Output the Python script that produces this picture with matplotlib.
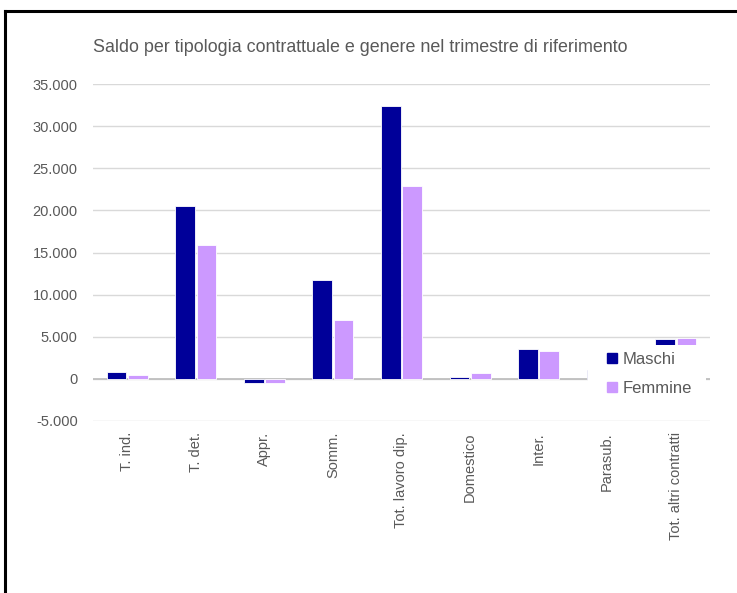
import matplotlib
matplotlib.use("Agg")
import matplotlib.pyplot as plt
import numpy as np
from matplotlib.lines import Line2D
from matplotlib.patches import Rectangle

plt.rcParams['font.family'] = ['Liberation Sans', 'DejaVu Sans']

categories = ["T. ind.", "T. det.", "Appr.", "Somm.", "Tot. lavoro dip.",
              "Domestico", "Inter.", "Parasub.", "Tot. altri contratti"]
maschi = [830, 20560, -520, 11680, 32390, 240, 3510, 1000, 4750]
femmine = [470, 15940, -480, 7020, 22840, 670, 3350, 850, 4900]
series_names = ["Maschi", "Femmine"]
yticks = [-5000, 0, 5000, 10000, 15000, 20000, 25000, 30000, 35000]
ytick_labels = ["-5.000", "0", "5.000", "10.000", "15.000", "20.000", "25.000", "30.000", "35.000"]
title = "Saldo per tipologia contrattuale e genere nel trimestre di riferimento"

W, H = 737, 593
fig = plt.figure(figsize=(W / 100, H / 100), dpi=100)
fig.patch.set_facecolor("white")

ax = fig.add_axes([93 / W, 1 - 421 / H, (710 - 93) / W, (421 - 84) / H])
c_m = "#000099"
c_f = "#CC99FF"
txt = "#595959"

x = np.arange(len(categories))
bw = 0.287
off = 0.155
ax.bar(x - off, maschi, bw, color=c_m, edgecolor="white", linewidth=0.6, zorder=3)
ax.bar(x + off, femmine, bw, color=c_f, edgecolor="white", linewidth=0.6, zorder=3)

ax.set_xlim(-0.5, len(categories) - 0.5)
ax.set_ylim(-5000, 35000)
ax.set_yticks(yticks)
ax.set_yticklabels(ytick_labels)
ax.grid(axis="y", color="#D9D9D9", linewidth=1.0, zorder=0)
ax.axhline(0, color="#BFBFBF", linewidth=1.3, zorder=2)
for s in ax.spines.values():
    s.set_visible(False)
ax.tick_params(axis="both", length=0, colors=txt, labelsize=10.5)
ax.tick_params(axis="y", pad=11)
ax.set_xticks(x)
ax.set_xticklabels(categories, rotation=90, va="top", ha="center")
ax.tick_params(axis="x", pad=8)

fig.text(360 / W, 1 - 47 / H, title, ha="center", va="center", fontsize=12.9, color=txt)

# white box behind legend
ax.add_patch(Rectangle((588 / W, 1 - 410 / H), 118 / W, 65 / H, transform=fig.transFigure,
                       facecolor="white", edgecolor="none", zorder=4, clip_on=False))
handles = [Line2D([], [], marker="s", linestyle="none", markersize=7, color=c)
           for c in (c_m, c_f)]
leg = ax.legend(handles, series_names, loc="upper left",
                bbox_to_anchor=(606 / W, 1 - 352 / H), bbox_transform=fig.transFigure,
                frameon=False, fontsize=12, handlelength=0.7, handletextpad=0.3,
                labelspacing=0.85, borderpad=0, borderaxespad=0)
leg.set_zorder(5)
for t in leg.get_texts():
    t.set_color(txt)

# outer frame (top and left edges visible)
fig.add_artist(Line2D([5 / W, 1], [1 - 11 / H, 1 - 11 / H], transform=fig.transFigure,
                      color="black", linewidth=2.2))
fig.add_artist(Line2D([5 / W, 5 / W], [0, 1 - 11 / H], transform=fig.transFigure,
                      color="black", linewidth=2.2))

fig.savefig("out.png", dpi=100, facecolor="white")
